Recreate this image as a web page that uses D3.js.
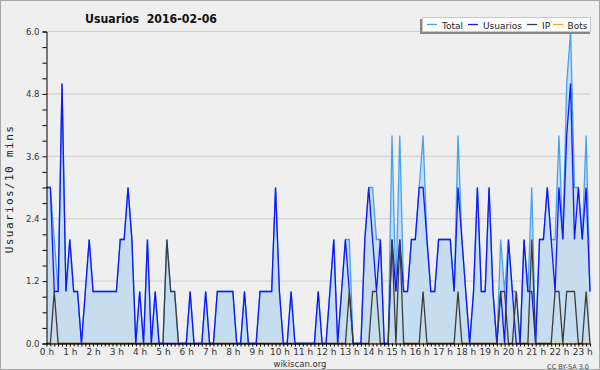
<!DOCTYPE html>
<html>
<head>
<meta charset="utf-8">
<script src="https://cdn.jsdelivr.net/npm/d3@7"></script>
<style>
  body { margin: 0; background: #fff; }
  svg { display: block; font-family: "DejaVu Sans", sans-serif; }
</style>
</head>
<body>
<svg id="canvas" width="600" height="370"></svg>
<script>
// one value every 10 minutes, 00:00 .. 23:20
const usuarios = [
  3,3,1,1,5,1,2,1,1,0, 1,2,1,1,1,1,1,1,1,2,
  2,3,2,0,1,0,2,0,1,0, 0,0,0,0,0,0,0,1,0,0,
  0,1,0,0,1,1,1,1,1,0, 0,1,0,0,0,1,1,1,1,3,
  1,0,0,1,0,0,0,0,0,0, 1,0,0,1,2,0,1,2,1,0,
  0,0,2,3,2,1,2,0,0,2, 1,2,1,1,2,2,3,3,2,1,
  1,2,2,2,2,1,3,2,1,0, 1,3,1,1,3,1,0,1,0,2,
  1,0,0,2,1,1,0,2,2,3, 2,1,3,2,4,5,2,3,2,3,
  1
];
const ip = [
  0,0,1,0,0,0,0,0,0,0, 0,0,0,0,0,0,0,0,0,0,
  0,0,0,0,0,0,0,0,0,0, 0,2,1,1,0,0,0,0,0,0,
  0,0,0,0,0,0,0,0,0,0, 0,0,0,0,0,0,0,0,0,0,
  0,0,0,0,0,0,0,0,0,0, 0,0,0,0,0,0,0,0,1,0,
  0,0,0,0,1,1,0,0,0,2, 0,2,0,0,0,0,0,1,0,0,
  0,0,0,0,0,0,1,0,0,0, 0,0,0,0,0,0,0,1,1,0,
  0,1,0,0,0,2,0,0,0,0, 0,1,1,0,1,1,1,0,0,1,
  0
];
const bots = [
  0,0,0,0,0,0,0,0,0,0, 0,0,0,0,0,0,0,0,0,0,
  0,0,0,0,0,0,0,0,0,0, 0,0,0,0,0,0,0,0,0,0,
  0,0,0,0,0,0,0,0,0,0, 0,0,0,0,0,0,0,0,0,0,
  0,0,0,0,0,0,0,0,0,0, 0,0,0,0,0,0,0,0,0,0,
  0,0,0,0,0,0,0,0,0,0, 0,0,0,0,0,0,0,0,0,0,
  0,0,0,0,0,0,0,0,0,0, 0,0,0,0,0,0,0,0,0,0,
  0,0,0,0,0,0,0,0,0,0, 0,0,0,0,0,0,0,0,0,0,
  0
];
const total = [
  3,3,2,1,5,1,2,1,1,0, 1,2,1,1,1,1,1,1,1,2,
  2,3,2,0,1,0,2,0,1,0, 0,2,1,1,0,0,0,1,0,0,
  0,1,0,0,1,1,1,1,1,0, 0,1,0,0,0,1,1,1,1,3,
  1,0,0,1,0,0,0,0,0,0, 1,0,0,1,2,0,1,2,2,0,
  0,0,2,3,3,2,2,0,0,4, 1,4,1,1,2,2,3,4,2,1,
  1,2,2,2,2,1,4,2,1,0, 1,3,1,1,3,1,0,2,1,2,
  1,1,0,2,1,3,0,2,2,3, 2,2,4,2,5,6,3,3,2,4,
  1
];
const hourLabels = ["0 h","1 h","2 h","3 h","4 h","5 h","6 h","7 h","8 h","9 h","10 h","11 h",
  "12 h","13 h","14 h","15 h","16 h","17 h","18 h","19 h","20 h","21 h","22 h","23 h"];
const yLabels = ["0.0","1.2","2.4","3.6","4.8","6.0"];
const legendNames = ["Total","Usuarios","IP","Bots"];

const colors = { total: "#45a2f2", usuarios: "#1414ff", ip: "#3c3c3c", bots: "#f5a623" };

const svg = d3.select("#canvas");
const plot = { left: 46.5, right: 590, top: 31.5, bottom: 343.5 };

svg.append("rect")
  .attr("x", 0.5).attr("y", 0.5).attr("width", 599).attr("height", 369)
  .attr("fill", "#efeff0").attr("stroke", "#a8a8a8");

const x = d3.scaleLinear().domain([0, usuarios.length - 1]).range([plot.left, plot.right]);
const y = d3.scaleLinear().domain([0, 6]).range([plot.bottom, plot.top]);

// grid
svg.append("g")
  .selectAll("line")
  .data(yLabels.map(Number).filter(d => d > 0))
  .join("line")
  .attr("x1", plot.left).attr("x2", plot.right)
  .attr("y1", d => y(d)).attr("y2", d => y(d))
  .attr("stroke", "#cdcdcd");

const idx = d3.range(usuarios.length);

svg.append("path")
  .datum(idx)
  .attr("fill", "#c6ddf0")
  .attr("d", d3.area().x(i => x(i)).y0(y(0)).y1(i => y(total[i])));

const line = (arr) => d3.line().x(i => x(i)).y(i => y(arr[i]));
[[bots, colors.bots], [total, colors.total], [usuarios, colors.usuarios], [ip, colors.ip]]
  .forEach(([arr, c]) => {
    svg.append("path").datum(idx)
      .attr("fill", "none").attr("stroke", c).attr("stroke-width", 1.3)
      .attr("d", line(arr));
  });

// y axis
const yAxis = svg.append("g")
  .attr("transform", `translate(${plot.left},0)`)
  .call(d3.axisLeft(y)
    .tickValues(d3.range(0, 21).map(k => k * 0.3))
    .tickSize(4)
    .tickFormat((d, k) => k % 4 === 0 ? yLabels[k / 4] : ""));
yAxis.selectAll("text").attr("font-size", 8.5).attr("fill", "#333").attr("font-family", "DejaVu Sans");

// x axis
const xAxis = svg.append("g")
  .attr("transform", `translate(0,${plot.bottom})`)
  .call(d3.axisBottom(x)
    .tickValues(idx)
    .tickSize(3)
    .tickSizeOuter(0)
    .tickFormat((d) => d % 6 === 0 ? hourLabels[d / 6] : ""));
xAxis.selectAll("text").attr("font-size", 9).attr("fill", "#333").attr("dy", "0.6em").attr("font-family", "DejaVu Sans");
svg.selectAll(".domain").attr("stroke", "#000");

// titles
svg.append("text")
  .attr("x", 85).attr("y", 23)
  .attr("font-size", 12.5).attr("font-weight", "bold").attr("fill", "#111")
  .attr("textLength", 132).attr("lengthAdjust", "spacingAndGlyphs")
  .style("white-space", "pre")
  .text("Usuarios  2016-02-06");

svg.append("text")
  .attr("transform", "translate(13,189) rotate(-90)")
  .attr("text-anchor", "middle")
  .attr("font-size", 11).attr("letter-spacing", 1.4).attr("fill", "#222")
  .attr("font-family", "DejaVu Sans Mono")
  .text("Usuarios/10 mins");

svg.append("text")
  .attr("x", 300).attr("y", 367)
  .attr("text-anchor", "middle").attr("font-size", 8.5).attr("fill", "#333")
  .text("wikiscan.org");

svg.append("text")
  .attr("x", 589).attr("y", 369)
  .attr("text-anchor", "end").attr("font-size", 6.5).attr("fill", "#444")
  .text("CC BY-SA 3.0");

// legend
const legend = svg.append("g");
legend.append("rect")
  .attr("x", 420).attr("y", 19).attr("width", 170).attr("height", 15)
  .attr("fill", "#888");
legend.append("rect")
  .attr("x", 422.5).attr("y", 17.5).attr("width", 168).attr("height", 14)
  .attr("fill", "#fff").attr("stroke", "#c8c8c8");
const legendLineX = [427, 468, 527, 553];
const legendTextX = [442, 483, 542, 567.5];
const legendC = [colors.total, colors.usuarios, colors.ip, colors.bots];
legendNames.forEach((n, k) => {
  legend.append("line")
    .attr("x1", legendLineX[k]).attr("x2", legendLineX[k] + 10)
    .attr("y1", 24.5).attr("y2", 24.5)
    .attr("stroke", legendC[k]).attr("stroke-width", 1.3);
  legend.append("text")
    .attr("x", legendTextX[k]).attr("y", 28.5)
    .attr("font-size", 9).attr("fill", "#222")
    .text(n);
});
</script>
</body>
</html>
